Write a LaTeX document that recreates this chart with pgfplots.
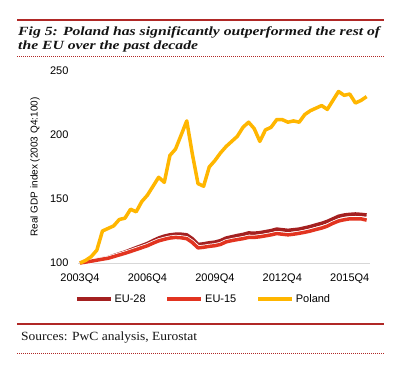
\documentclass[border=0pt]{standalone}
\usepackage{fontspec}
\usepackage{graphicx}
\usepackage{pgfplots}
\usepackage{pgfplotstable}
\pgfplotsset{compat=1.18}
\setmainfont{Liberation Sans}
\newfontfamily\serif{Liberation Serif}
\definecolor{pwcred}{RGB}{176,40,38}
\definecolor{eudark}{RGB}{164,32,32}
\definecolor{eulight}{RGB}{226,52,32}
\definecolor{plyellow}{RGB}{255,182,0}
\definecolor{axgray}{RGB}{215,215,215}
\definecolor{txt}{RGB}{20,20,20}

\pgfplotstableread{
i eu28 eu15 pl
0 100 100 100
1 100.8 100.7 102
2 101.6 101.4 105
3 102.5 102.2 110
4 103.3 103 125
5 104.2 103.7 127
6 105.8 105 129
7 107.2 106.3 134
8 108.6 107.6 135
9 110.3 109 142
10 112 110.5 140
11 113.6 112 148
12 115.3 113.5 153
13 117.5 115.5 160
14 119.5 117.3 167
15 121 118.5 163
16 122 119.5 184
17 122.5 120 189
18 122.5 119.7 200
19 122 119 211
20 119 116 185
21 114.5 111.8 162
22 115 112.3 160
23 115.8 113 175
24 116.3 113.5 180
25 117.5 114.5 186
26 119.5 116.5 191
27 120.5 117.5 195
28 121.5 118.3 199
29 122.3 119 206
30 123.5 120 210
31 123.3 120 205
32 123.7 120.5 195
33 124.5 121.2 204
34 125.3 122 206
35 126.5 123 212
36 126 122.5 212
37 125.5 122 210
38 126 122.5 211
39 126.5 123.2 210
40 127.5 124 216
41 128.5 125 219
42 129.8 126.2 221
43 131 127.3 223
44 132.5 128.8 220
45 134.5 131 227
46 136.5 132.8 234
47 137.5 133.8 231
48 138 134.5 232
49 138.3 134.5 225
50 138 134.5 227
51 137.5 133.5 230
}\gdpdata

\newlength{\tlen}
\begin{document}
\settowidth{\tlen}{\serif\fontsize{12.5}{14}\selectfont\bfseries\itshape Fig 5: Poland has significantly outperformed the rest of}%
\pgfmathsetmacro{\tfac}{362/\tlen}%
\begin{tikzpicture}
\path[use as bounding box] (0pt,0pt) rectangle (402pt,-379pt);
% frame lines
\draw[pwcred, line width=1.8pt] (17pt,-20pt) -- (384pt,-20pt);
\draw[pwcred, line width=1pt, dash pattern=on 1pt off 1pt] (17pt,-57pt) -- (384pt,-57pt);
\draw[pwcred, line width=1.5pt] (17pt,-324pt) -- (384pt,-324pt);
\draw[pwcred, line width=1pt, dash pattern=on 1pt off 1pt] (17pt,-354pt) -- (384pt,-354pt);
% title
\node[anchor=base west, inner sep=0pt, text=txt] at (18pt,-35.7pt) {\scalebox{\tfac}[1]{\serif\fontsize{12.5}{14}\selectfont\bfseries\itshape Fig 5: Poland has significantly outperformed the rest of}};
\node[anchor=base west, inner sep=0pt, text=txt] at (18pt,-49.3pt) {\scalebox{\tfac}[1]{\serif\fontsize{12.5}{14}\selectfont\bfseries\itshape the EU over the past decade}};
% sources
\node[anchor=base west, inner sep=0pt, text=txt] at (21pt,-341pt) {\resizebox{176pt}{\height}{\serif\fontsize{12.5}{14}\selectfont Sources: PwC analysis, Eurostat}};
\begin{axis}[
  at={(78pt,-263pt)}, anchor=south west,
  width=292pt, height=192pt, scale only axis,
  xmin=-0.35, xmax=51.6, ymin=100, ymax=250,
  clip=false,
  axis lines*=left,
  x axis line style={draw=axgray, line width=0.9pt},
  y axis line style={draw=none},
  major tick length=0pt,
  xtick={0,12,24,36,48},
  xticklabels={2003Q4,2006Q4,2009Q4,2012Q4,2015Q4},
  ytick={100,150,200,250},
  /pgf/number format/assume math mode=true,
  tick label style={font=\fontsize{11}{12}\selectfont, text=black},
  xticklabel style={yshift=-7pt},
  yticklabel style={xshift=-6pt},
  ylabel={Real GDP index (2003 Q4:100)},
  ylabel style={font=\fontsize{11.5}{13}\selectfont},
  every axis y label/.style={at={(axis description cs:-0.147,0.5)}, rotate=90, anchor=center},
  legend style={at={(axis description cs:0.43,-0.1875)}, anchor=center, draw=none, fill=none,
    legend columns=3, font=\fontsize{11}{12}\selectfont, inner sep=0pt,
    /tikz/every even column/.append style={column sep=18pt}},
  legend image code/.code={\draw[#1] (0pt,0pt) -- (34pt,0pt);},
]
\addplot[eudark, line width=3.5pt, line join=round] table[x=i, y=eu28] {\gdpdata};
\addlegendentry{EU-28}
\addplot[white, line width=5pt, line join=round, forget plot] table[x=i, y=eu15] {\gdpdata};
\addplot[eulight, line width=3.5pt, line join=round] table[x=i, y=eu15] {\gdpdata};
\addlegendentry{EU-15}
\addplot[plyellow, line width=3.5pt, line join=round] table[x=i, y=pl] {\gdpdata};
\addlegendentry{Poland}
\end{axis}
\end{tikzpicture}
\end{document}
